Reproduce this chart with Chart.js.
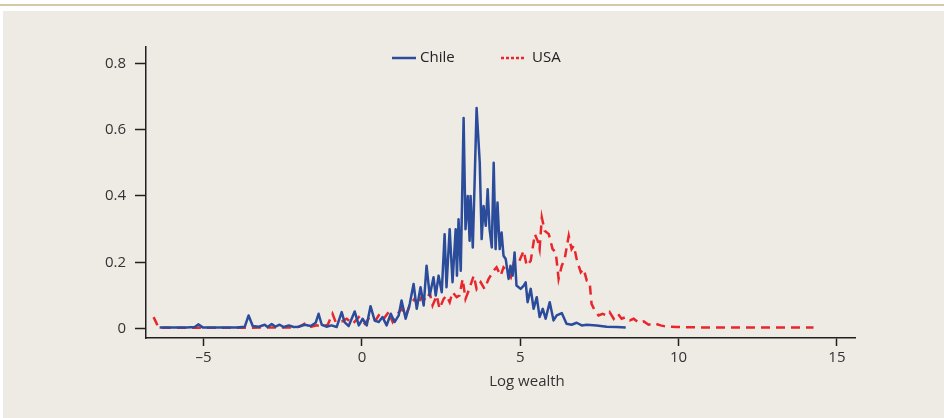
<!DOCTYPE html>
<html>
<head>
<meta charset="utf-8">
<script src="https://cdn.jsdelivr.net/npm/chart.js@4/dist/chart.umd.min.js"></script>
<style>
  html, body { margin: 0; padding: 0; background: #ffffff; }
  body { width: 944px; height: 418px; position: relative; overflow: hidden; }
  #rule { position: absolute; left: 0; top: 4px; width: 944px; height: 2px; background: #d3c8ab; }
  #panel { position: absolute; left: 3px; top: 11px; width: 941px; height: 407px; background: #eeebe5; }
</style>
</head>
<body>
<div id="rule"></div>
<div id="panel"><canvas id="wealthChart" width="941" height="407"></canvas></div>
<script>
// tick positions and labels
var xTicks = [-5, 0, 5, 10, 15];
var xTickLabels = ['–5', '0', '5', '10', '15'];
var yTicks = [0, 0.2, 0.4, 0.6, 0.8];
var yTickLabels = ['0', '0.2', '0.4', '0.6', '0.8'];

// Chile: log wealth / density
var chileX = [-6.39, -5.54, -5.28, -5.16, -5.03, -4.75, -3.96, -3.70, -3.58, -3.45, -3.26, -3.07, -2.98, -2.85, -2.73, -2.60,
  -2.47, -2.31, -2.16, -2.00, -1.81, -1.62, -1.46, -1.37, -1.27, -1.12, -0.96, -0.80, -0.64, -0.55, -0.42, -0.23, -0.10,
  0.02, 0.15, 0.27, 0.40, 0.53, 0.65, 0.78, 0.91, 1.03, 1.16, 1.25, 1.38, 1.51, 1.63, 1.73, 1.85, 1.95, 2.04, 2.14, 2.26,
  2.33, 2.42, 2.52, 2.61, 2.67, 2.77, 2.86, 2.96, 3.00, 3.05, 3.12, 3.21, 3.27, 3.34, 3.40, 3.43, 3.50, 3.56, 3.62, 3.72,
  3.78, 3.84, 3.91, 3.97, 4.03, 4.10, 4.16, 4.22, 4.28, 4.35, 4.41, 4.47, 4.54, 4.63, 4.69, 4.76, 4.82, 4.88, 5.01, 5.11,
  5.17, 5.23, 5.33, 5.42, 5.52, 5.61, 5.71, 5.80, 5.93, 6.05, 6.15, 6.31, 6.46, 6.62, 6.78, 6.94, 7.10, 7.41, 7.73, 8.04, 8.33];
var chileY = [0.004, 0.004, 0.005, 0.013, 0.004, 0.004, 0.004, 0.006, 0.040, 0.008, 0.006, 0.012, 0.005, 0.014, 0.006, 0.012,
  0.005, 0.010, 0.005, 0.006, 0.012, 0.008, 0.018, 0.045, 0.012, 0.006, 0.010, 0.005, 0.050, 0.020, 0.008, 0.052, 0.010,
  0.030, 0.010, 0.068, 0.025, 0.020, 0.035, 0.010, 0.045, 0.020, 0.040, 0.085, 0.030, 0.075, 0.135, 0.060, 0.125, 0.070, 0.190, 0.100, 0.155,
  0.100, 0.160, 0.110, 0.285, 0.125, 0.300, 0.140, 0.300, 0.160, 0.330, 0.175, 0.635, 0.300, 0.400, 0.265, 0.400, 0.245, 0.450, 0.665, 0.500,
  0.270, 0.370, 0.310, 0.420, 0.300, 0.245, 0.500, 0.240, 0.380, 0.240, 0.290, 0.220, 0.210, 0.150, 0.190, 0.160, 0.230, 0.130, 0.120, 0.130,
  0.140, 0.080, 0.120, 0.060, 0.095, 0.035, 0.060, 0.030, 0.080, 0.025, 0.040, 0.047, 0.015, 0.012, 0.018, 0.010, 0.012, 0.010, 0.006, 0.005, 0.004];

// USA
var usaX = [-6.58, -6.42, -5.22, -3.64, -2.06, -1.90, -1.81, -1.65, -1.43, -1.24, -1.08, -0.93, -0.83, -0.64, -0.48, -0.29,
  -0.10, 0.09, 0.21, 0.40, 0.56, 0.69, 0.84, 0.97, 1.13, 1.25, 1.38, 1.51, 1.66, 1.76, 1.88, 2.04, 2.14, 2.23, 2.36, 2.45,
  2.58, 2.67, 2.77, 2.86, 2.99, 3.08, 3.18, 3.27, 3.37, 3.53, 3.62, 3.75, 3.87, 4.00, 4.16, 4.25, 4.38, 4.47, 4.57, 4.70,
  4.82, 4.95, 5.11, 5.20, 5.33, 5.46, 5.55, 5.61, 5.68, 5.77, 5.90, 6.02, 6.12, 6.21, 6.31, 6.40, 6.53, 6.62, 6.69, 6.78,
  6.91, 7.00, 7.10, 7.19, 7.25, 7.35, 7.47, 7.60, 7.73, 7.82, 7.95, 8.08, 8.20, 8.33, 8.46, 8.58, 8.74, 8.90, 9.05, 9.24,
  9.43, 9.62, 9.94, 10.57, 14.26];
var usaY = [0.035, 0.003, 0.003, 0.003, 0.004, 0.010, 0.015, 0.005, 0.010, 0.006, 0.012, 0.045, 0.020, 0.022, 0.030, 0.015,
  0.035, 0.015, 0.030, 0.020, 0.045, 0.030, 0.050, 0.020, 0.045, 0.060, 0.040, 0.070, 0.090, 0.070, 0.095, 0.085, 0.108, 0.070, 0.100, 0.060,
  0.090, 0.100, 0.080, 0.110, 0.095, 0.100, 0.150, 0.090, 0.115, 0.160, 0.120, 0.140, 0.120, 0.150, 0.175, 0.185, 0.160, 0.185, 0.175, 0.155,
  0.210, 0.200, 0.235, 0.190, 0.205, 0.285, 0.265, 0.240, 0.335, 0.295, 0.285, 0.240, 0.230, 0.150, 0.190, 0.210, 0.280, 0.240, 0.250, 0.210,
  0.170, 0.180, 0.145, 0.140, 0.075, 0.055, 0.040, 0.045, 0.040, 0.050, 0.030, 0.045, 0.030, 0.035, 0.025, 0.030, 0.018, 0.022, 0.012, 0.016,
  0.010, 0.006, 0.005, 0.004, 0.004];

var seriesNames = ['Chile', 'USA'];
var axisTitle = 'Log wealth';

var blue = '#2b4c9b';
var red = '#e8262b';
var ink = '#231f20';
var fontFamily = "'Open Sans', 'Noto Sans', sans-serif";

function toPoints(xs, ys) {
    return xs.map(function(x, i) { return {x: x, y: ys[i]}; });
}

// legend and x title drawn by hand so they can sit where the original has them
var overlay = {
    id: 'overlay',
    afterDraw: function(chart) {
        var ctx = chart.ctx;
        ctx.save();
        ctx.font = '15px ' + fontFamily;
        ctx.fillStyle = '#222';
        ctx.textBaseline = 'middle';

        ctx.lineWidth = 2.5;
        ctx.strokeStyle = blue;
        ctx.beginPath(); ctx.moveTo(389, 47); ctx.lineTo(413, 47); ctx.stroke();
        ctx.fillText(seriesNames[0], 417, 47);

        ctx.strokeStyle = red;
        ctx.setLineDash([3, 2]);
        ctx.beginPath(); ctx.moveTo(498, 47); ctx.lineTo(522, 47); ctx.stroke();
        ctx.setLineDash([]);
        ctx.fillText(seriesNames[1], 529, 47);

        ctx.textAlign = 'center';
        ctx.fillStyle = '#333';
        ctx.fillText(axisTitle, 524, 371);
        ctx.restore();
    }
};

var ctx = document.getElementById('wealthChart').getContext('2d');
new Chart(ctx, {
    type: 'line',
    data: {
        datasets: [{
            label: seriesNames[0],
            data: toPoints(chileX, chileY),
            borderColor: blue,
            borderWidth: 2.5,
            pointRadius: 0,
            tension: 0,
            borderJoinStyle: 'round'
        }, {
            label: seriesNames[1],
            data: toPoints(usaX, usaY),
            borderColor: red,
            borderWidth: 2.5,
            borderDash: [9, 6],
            pointRadius: 0,
            tension: 0
        }]
    },
    options: {
        responsive: false,
        animation: false,
        layout: { padding: { top: 36, right: 89, left: 0, bottom: 0 } },
        plugins: {
            legend: { display: false },
            tooltip: { enabled: false }
        },
        scales: {
            x: {
                type: 'linear',
                min: -6.82,
                max: 15.57,
                afterBuildTicks: function(scale) {
                    scale.ticks = xTicks.map(function(v) { return {value: v}; });
                },
                afterFit: function(scale) { scale.height = 80; },
                ticks: {
                    padding: 3,
                    color: '#333',
                    font: { family: fontFamily, size: 15 },
                    callback: function(value) { return xTickLabels[xTicks.indexOf(value)]; }
                },
                grid: { drawOnChartArea: false, drawTicks: true, tickLength: 8, tickColor: ink, tickWidth: 1.5 },
                border: { display: true, color: ink, width: 1.5 }
            },
            y: {
                min: -0.028,
                max: 0.849,
                afterBuildTicks: function(scale) {
                    scale.ticks = yTicks.map(function(v) { return {value: v}; });
                },
                afterFit: function(scale) { scale.width = 143; },
                ticks: {
                    padding: 9,
                    color: '#333',
                    font: { family: fontFamily, size: 15 },
                    callback: function(value) { return yTickLabels[yTicks.indexOf(value)]; }
                },
                grid: { drawOnChartArea: false, drawTicks: true, tickLength: 11, tickColor: ink, tickWidth: 1.5 },
                border: { display: true, color: ink, width: 1.5 }
            }
        }
    },
    plugins: [overlay]
});
</script>
</body>
</html>
